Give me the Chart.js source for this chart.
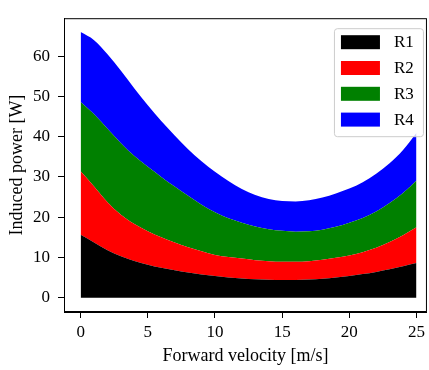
<!DOCTYPE html>
<html>
<head>
<meta charset="utf-8">
<script src="https://cdn.jsdelivr.net/npm/chart.js@4.4.0/dist/chart.umd.min.js"></script>
<style>
  html, body { margin: 0; padding: 0; background: #fff; }
  #wrap { width: 429px; height: 370px; }
</style>
</head>
<body>
<div id="wrap"><canvas id="power"></canvas></div>
<script>
// forward velocity [m/s]
const velocity = [0, 1, 2, 3, 4, 5, 6, 7, 8, 9, 10, 11, 12, 13, 14, 15, 16, 17, 18, 19, 20, 21, 22, 23, 24, 25];

// induced power per rotor [W], stacked on top of each other
const r1Power = [15.6, 13.7, 11.8, 10.3, 9.1, 8.2, 7.4, 6.8, 6.25, 5.75, 5.35, 5.0, 4.75, 4.55, 4.45, 4.4, 4.4, 4.5, 4.7, 5.0, 5.4, 5.85, 6.4, 7.05, 7.8, 8.6];
const r2Power = [15.8, 13.9, 11.9, 10.3, 9.2, 8.3, 7.6, 6.9, 6.25, 5.75, 5.25, 5.1, 4.95, 4.75, 4.6, 4.5, 4.5, 4.55, 4.7, 4.9, 5.1, 5.45, 6.0, 6.75, 7.7, 8.9];
const r3Power = [17.2, 18.0, 18.3, 17.8, 16.9, 16.0, 15.0, 13.9, 12.8, 11.6, 10.6, 9.6, 8.9, 8.4, 7.95, 7.7, 7.5, 7.45, 7.5, 7.7, 8.1, 8.5, 9.0, 9.7, 10.5, 11.6];
const r4Power = [17.4, 18.4, 18.5, 18.0, 16.8, 15.3, 13.9, 12.7, 11.6, 10.8, 10.1, 9.3, 8.4, 7.8, 7.5, 7.4, 7.5, 7.7, 8.0, 8.3, 8.5, 8.9, 9.4, 9.9, 10.7, 11.8];

const seriesNames = ["R1", "R2", "R3", "R4"];
const seriesColors = ["#000000", "#ff0000", "#008000", "#0000ff"];

const xTicks = [0, 5, 10, 15, 20, 25];
const yTicks = [0, 10, 20, 30, 40, 50, 60];

const serif = "'Liberation Serif', 'DejaVu Serif', serif";

const toPoints = (vals) => vals.map((y, i) => ({ x: velocity[i], y: y }));

// black box round the plot, like matplotlib
const frame = {
    id: "frame",
    afterDatasetsDraw(chart) {
        const a = chart.chartArea;
        const ctx = chart.ctx;
        ctx.save();
        ctx.strokeStyle = "#000";
        ctx.lineWidth = 1;
        ctx.strokeRect(a.left + 0.5, a.top + 0.5, a.right - a.left - 1, a.bottom - a.top - 1);
        ctx.restore();
    }
};

// legend box in the upper right corner
const boxLegend = {
    id: "boxLegend",
    afterDraw(chart) {
        const a = chart.chartArea;
        const ctx = chart.ctx;
        const w = 89, h = 108;
        const x0 = a.right - 93, y0 = a.top + 10;
        ctx.save();
        ctx.fillStyle = "rgba(255,255,255,0.8)";
        ctx.strokeStyle = "#cccccc";
        ctx.lineWidth = 1;
        ctx.beginPath();
        ctx.roundRect(x0 + 0.5, y0 + 0.5, w, h, 3);
        ctx.fill();
        ctx.stroke();
        ctx.font = "17px " + serif;
        ctx.textBaseline = "middle";
        chart.data.datasets.forEach((ds, i) => {
            const yy = y0 + 7 + i * 25.8;
            ctx.fillStyle = ds.backgroundColor;
            ctx.fillRect(x0 + 7, yy, 39, 14);
            ctx.fillStyle = "#000";
            ctx.fillText(ds.label, x0 + 60, yy + 7.5);
        });
        ctx.restore();
    }
};

new Chart(document.getElementById("power"), {
    type: "line",
    data: {
        datasets: [r1Power, r2Power, r3Power, r4Power].map((vals, i) => ({
            label: seriesNames[i],
            data: toPoints(vals),
            backgroundColor: seriesColors[i],
            borderColor: seriesColors[i],
            borderWidth: 0,
            pointRadius: 0,
            fill: i === 0 ? "origin" : "-1",
            cubicInterpolationMode: "monotone"
        }))
    },
    options: {
        responsive: true,
        maintainAspectRatio: false,
        animation: false,
        layout: { padding: { top: 5, right: 1, left: 0, bottom: 0 } },
        plugins: {
            legend: { display: false },
            tooltip: { enabled: false }
        },
        scales: {
            x: {
                type: "linear",
                min: -1.24,
                max: 25.78,
                afterBuildTicks: (scale) => { scale.ticks = xTicks.map(v => ({ value: v })); },
                afterFit: (scale) => { scale.height = 58; },
                grid: { display: true, drawOnChartArea: false, drawTicks: true, tickLength: 6, color: "#000" },
                border: { display: true, color: "#000", width: 1 },
                ticks: { color: "#000", font: { family: serif, size: 17 }, padding: 4, maxRotation: 0 },
                title: { display: true, text: "Forward velocity [m/s]", color: "#000", font: { family: serif, size: 18 }, padding: { top: 0, bottom: 3 } }
            },
            y: {
                stacked: true,
                min: -3.57,
                max: 69.45,
                afterBuildTicks: (scale) => { scale.ticks = yTicks.map(v => ({ value: v })); },
                afterFit: (scale) => { scale.width = 64; },
                grid: { display: true, drawOnChartArea: false, drawTicks: true, tickLength: 6, color: "#000" },
                border: { display: true, color: "#000", width: 1 },
                ticks: { color: "#000", font: { family: serif, size: 17 }, padding: 8 },
                title: { display: true, text: "Induced power [W]", color: "#000", font: { family: serif, size: 18 }, padding: { top: 6, bottom: 0 } }
            }
        }
    },
    plugins: [frame, boxLegend]
});
</script>
</body>
</html>
